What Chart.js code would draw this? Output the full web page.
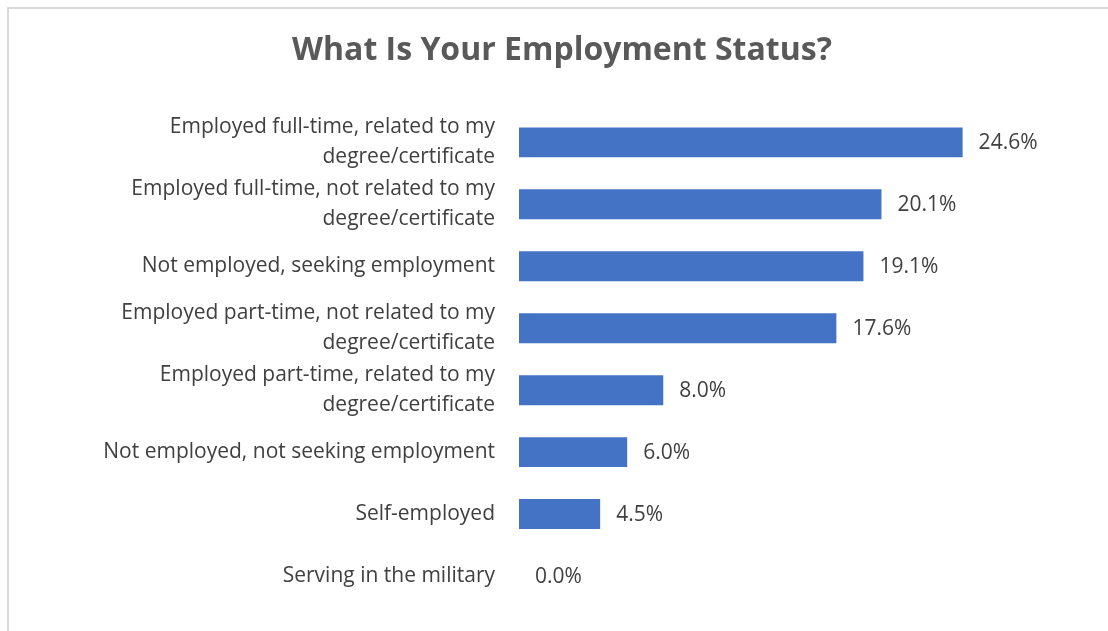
<!DOCTYPE html>
<html>
<head>
<meta charset="utf-8">
<script src="https://cdn.jsdelivr.net/npm/chart.js@4"></script>
<style>
  html, body { margin: 0; padding: 0; background: #fff; overflow: hidden; }
  #frame {
    position: absolute; left: 7px; top: 7px; width: 1200px; height: 700px;
    border-left: 2px solid #d9d9d9; border-top: 2px solid #d9d9d9;
  }
  #wrap { position: absolute; left: 0; top: 0; width: 1108px; height: 631px; }
</style>
</head>
<body>
<div id="frame"></div>
<div id="wrap"><canvas id="statusChart"></canvas></div>
<script>
// categories (multi-line labels) and percentages
const CATEGORIES = [
    ['Employed full-time, related to my', 'degree/certificate'],
    ['Employed full-time, not related to my', 'degree/certificate'],
    'Not employed, seeking employment',
    ['Employed part-time, not related to my', 'degree/certificate'],
    ['Employed part-time, related to my', 'degree/certificate'],
    'Not employed, not seeking employment',
    'Self-employed',
    'Serving in the military'
];
const PERCENTS = [24.6, 20.1, 19.1, 17.6, 8.0, 6.0, 4.5, 0.0];

const FONT = '"Open Sans", Lato, sans-serif';
const TEXT_COLOR = '#404040';

// draws "24.6%" next to each bar
const valueLabels = {
    id: 'valueLabels',
    afterDatasetsDraw(chart) {
        const ctx = chart.ctx;
        const meta = chart.getDatasetMeta(0);
        ctx.save();
        ctx.font = '21px ' + FONT;
        ctx.fillStyle = TEXT_COLOR;
        ctx.textAlign = 'left';
        ctx.textBaseline = 'middle';
        meta.data.forEach((bar, i) => {
            ctx.fillText(PERCENTS[i].toFixed(1) + '%', bar.x + 16, bar.y + 1);
        });
        ctx.restore();
    }
};

const ctx = document.getElementById('statusChart').getContext('2d');
new Chart(ctx, {
    type: 'bar',
    data: {
        labels: CATEGORIES,
        datasets: [{
            data: PERCENTS,
            backgroundColor: '#4472C4',
            borderWidth: 0,
            categoryPercentage: 1,
            barPercentage: 0.484
        }]
    },
    options: {
        indexAxis: 'y',
        responsive: true,
        maintainAspectRatio: false,
        animation: false,
        layout: { padding: { left: 64, right: 48, top: 0, bottom: 24 } },
        scales: {
            x: { display: false, min: 0, max: 30 },
            y: {
                grid: { display: false },
                border: { display: false },
                afterFit: (scale) => {
                    scale.width = 455;
                    // multi-line labels would otherwise add extra space top/bottom
                    scale.paddingTop = 0;
                    scale.paddingBottom = 0;
                },
                ticks: {
                    autoSkip: false,
                    padding: 16,
                    color: TEXT_COLOR,
                    font: { family: FONT, size: 21, lineHeight: 1.43 }
                }
            }
        },
        plugins: {
            legend: { display: false },
            tooltip: { enabled: false },
            title: {
                display: true,
                text: 'What Is Your Employment Status?',
                color: '#595959',
                font: { family: FONT, size: 32, weight: 'bold', lineHeight: 1.2 },
                padding: { top: 32, bottom: 41 }
            }
        }
    },
    plugins: [valueLabels]
});
</script>
</body>
</html>
